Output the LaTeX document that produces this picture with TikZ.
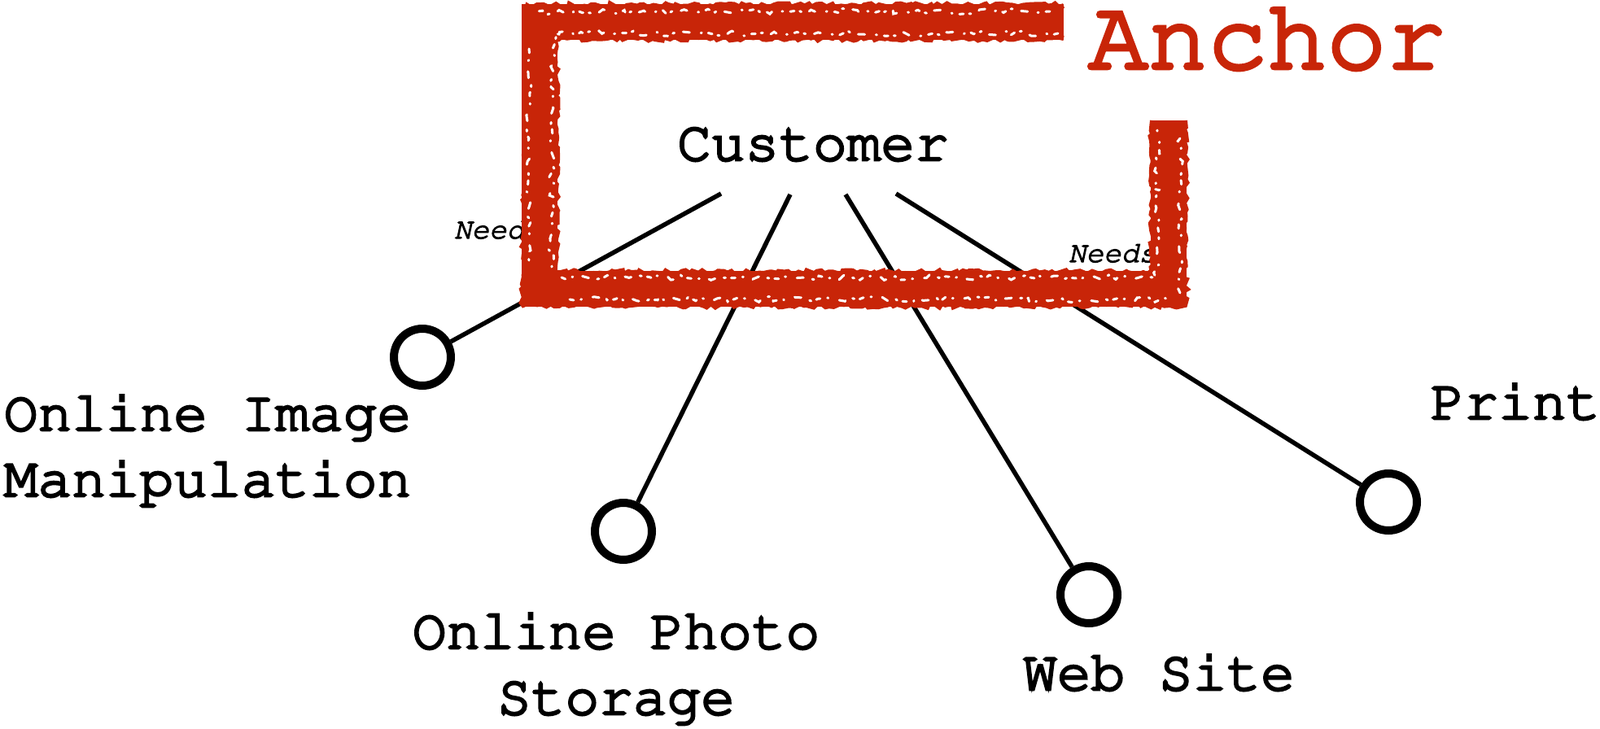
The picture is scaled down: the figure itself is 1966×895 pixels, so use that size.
\documentclass[tikz,border=0pt]{standalone}
\usepackage[T1]{fontenc}
\renewcommand\ttdefault{pcr}
\usetikzlibrary{decorations.pathmorphing}
\definecolor{anchorred}{RGB}{200,37,8}
% thicken glyphs by stroking their outlines as well as filling them
\newcommand\heavytext[2]{\special{pdf:literal direct #1 w 2 Tr}#2\special{pdf:literal direct 0 Tr}}
\begin{document}
\begin{tikzpicture}[x=1pt,y=-1pt,
  lbl/.style={font=\ttfamily\fontsize{69.5}{81}\selectfont, inner sep=0pt, anchor=base, align=center},
  needlbl/.style={font=\ttfamily\slshape\fontsize{36}{40}\selectfont, inner sep=0pt, anchor=base},
  conn/.style={line width=5.5pt, draw=black},
  ring/.style={circle, draw=black, line width=10pt, minimum size=70pt, inner sep=0pt, fill=white},
  bracket/.style={draw=anchorred, line width=44pt, line join=miter, line cap=butt},
  roughedge/.style={draw=anchorred, line width=6pt, decorate, decoration={random steps, segment length=5pt, amplitude=2.5pt}},
  speckle/.style={draw=white, line width=3pt, line cap=round, dash pattern=on 5pt off 9pt on 1pt off 14pt on 8pt off 11pt on 2pt off 7pt, decorate, decoration={random steps, segment length=7pt, amplitude=3.5pt}}]
\useasboundingbox (0,0) rectangle (1966,895);

% labels under the bracket
\node[needlbl] (needL) at (612,293) {\heavytext{1.2}{Needs}};
\node[needlbl] (needR) at (1367,322) {\heavytext{1.2}{Needs}};

% customer
\node[lbl] (cust) at (999,197) {\heavytext{2.8}{Customer}};
\coordinate (s1) at (886,238);
\coordinate (s2) at (971,239);
\coordinate (s3) at (1039,239);
\coordinate (s4) at (1101,238);

% end circles
\node[ring] (c1) at (519,439) {};
\node[ring] (c2) at (766,653) {};
\node[ring] (c3) at (1338,731) {};
\node[ring] (c4) at (1706,617) {};

% connectors
\draw[conn] (s1) -- (c1);
\draw[conn] (s2) -- (c2);
\draw[conn] (s3) -- (c3);
\draw[conn] (s4) -- (c4);

% target labels (base anchor = baseline of last line)
\node[lbl] (l1) at (255,610) {\heavytext{2.8}{Online Image\\Manipulation}};
\node[lbl] (l2) at (757,878) {\heavytext{2.8}{Online Photo\\Storage}};
\node[lbl] (l3) at (1424,848) {\heavytext{2.8}{Web Site}};
\node[lbl] (l4) at (1862,515) {\heavytext{2.8}{Print}};

% anchor bracket
\draw[bracket] (1307,27) -- (663,27) -- (663,355) -- (1436,355) -- (1436,148);
\draw[roughedge] (1307,7) -- (648,7) -- (643,375) -- (1456,375) -- (1456,148);
\draw[roughedge] (1307,47) -- (683,47) -- (683,335) -- (1416,335) -- (1416,148);
\draw[speckle] (1300,41) -- (680,41) -- (677,330);
\draw[speckle] (690,341) -- (1420,341) -- (1422,160);
\draw[speckle] (1290,14) -- (660,14);
\draw[speckle] (700,368) -- (1440,368);
\draw[speckle] (650,60) -- (650,320);
\draw[speckle] (1450,170) -- (1450,360);
\node[font=\ttfamily\fontsize{122}{130}\selectfont, text=anchorred, inner sep=0pt, anchor=base] (anchorlbl) at (1557,84) {\heavytext{4.8}{Anchor}};
\end{tikzpicture}
\end{document}
